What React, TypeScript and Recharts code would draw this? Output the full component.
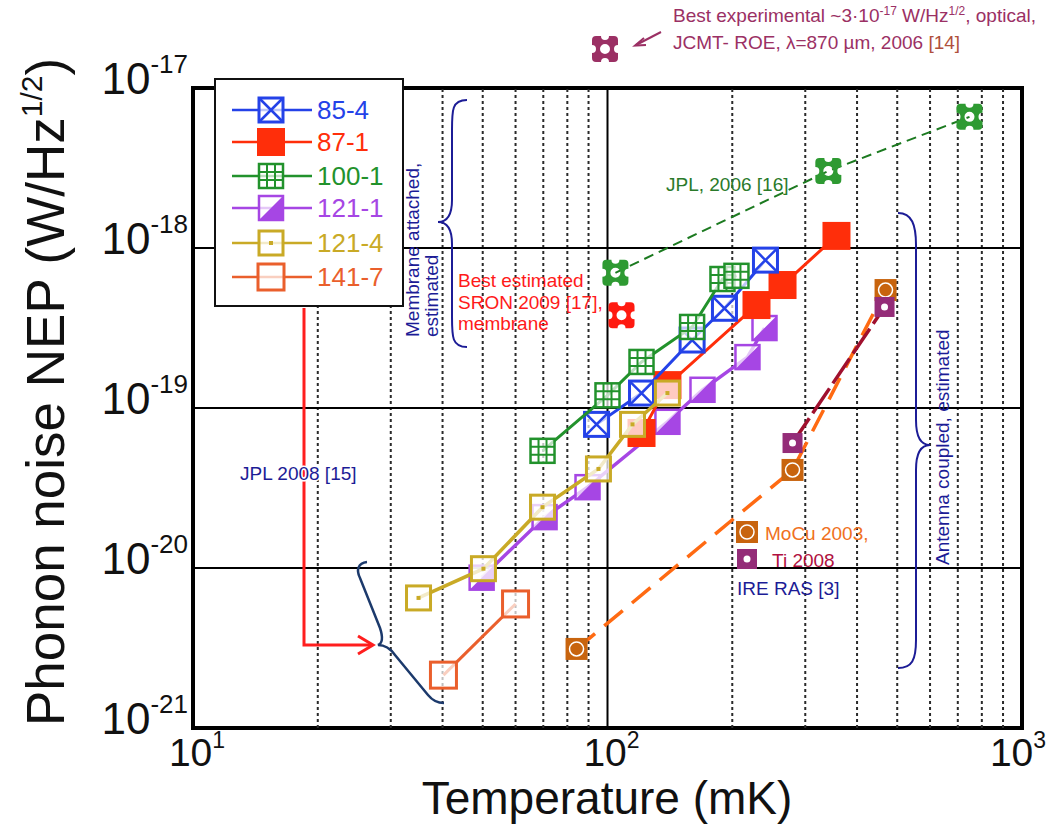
import React from 'react';
import { ScatterChart, Scatter, XAxis, YAxis, ReferenceLine, ReferenceArea } from 'recharts';

const FONT = '"Liberation Sans", Arial, Helvetica, sans-serif';

// temperature (mK) / phonon NEP (W/Hz^1/2)
const t854 = [94.1, 120.8, 160, 191.5, 240.5];
const nep854 = [7.9e-20, 1.24e-19, 2.66e-19, 4.2e-19, 8.4e-19];
const t871 = [120.8, 139.5, 228.8, 264.4, 356.8];
const nep871 = [6.98e-20, 1.39e-19, 4.4e-19, 5.87e-19, 1.19e-18];
const t1001 = [69.7, 100, 120.8, 160, 189.4, 204.7];
const nep1001 = [5.4e-20, 1.2e-19, 1.94e-19, 3.21e-19, 6.4e-19, 6.7e-19];
const t1211 = [49.7, 70.5, 89.5, 139.5, 169.5, 217.6, 239.2];
const nep1211 = [8.7e-21, 2.08e-20, 3.2e-20, 8.2e-20, 1.3e-19, 2.08e-19, 3.16e-19];
const t1214 = [35.0, 50.2, 69.7, 95.1, 114.9, 139.5];
const nep1214 = [6.5e-21, 9.9e-21, 2.4e-20, 4.16e-20, 7.9e-20, 1.24e-19];
const t1417 = [40.2, 60.0];
const nep1417 = [2.14e-21, 5.96e-21];

const tJpl06 = [104.5, 341, 747];
const nepJpl06 = [7.0e-19, 3.03e-18, 6.6e-18];
const tSron = [108.1];
const nepSron = [3.8e-19];
const tMoCu = [84.2, 279.5, 468.6];
const nepMoCu = [3.12e-21, 4.1e-20, 5.46e-19];
const tTi = [279.5, 466];
const nepTi = [6.04e-20, 4.28e-19];

const seriesNames = ['85-4', '87-1', '100-1', '121-1', '121-4', '141-7'];

const xTicks = [10, 100, 1000];
const yTicks = [1e-21, 1e-20, 1e-19, 1e-18, 1e-17];
const xMinor = [20, 30, 40, 50, 60, 70, 80, 90, 200, 300, 400, 500, 600, 700, 800, 900];
const xMajor = [100];
const yMajor = [1e-20, 1e-19, 1e-18];

const rows = (t: number[], v: number[]) => t.map((x, i) => ({ x, y: v[i] }));

const C = {
  blue: '#2442e8',
  red: '#ff2e0a',
  green: '#22922c',
  purple: '#a646e4',
  yellow: '#c9aa26',
  orange: '#ea5f2c',
  jpl: '#2e9a32',
  jplLine: '#1c7a20',
  mocu: '#c8640e',
  mocuLine: '#ff6a12',
  ti: '#942c78',
  tiLine: '#a0102e',
  navy: '#1c1c96',
  exp: '#9b3064',
};

const H = 12;
type Mk = (cx: number, cy: number) => React.ReactElement;

const boxCross = (c: string): Mk => (cx, cy) => (
  <g>
    <rect x={cx - H} y={cy - H} width={2 * H} height={2 * H} fill="#fff" fillOpacity={0.7} stroke={c} strokeWidth={3} />
    <path d={`M${cx - H},${cy - H}L${cx + H},${cy + H}M${cx + H},${cy - H}L${cx - H},${cy + H}`} stroke={c} strokeWidth={2.5} />
  </g>
);
const boxFilled = (c: string): Mk => (cx, cy) => (
  <rect x={cx - 14} y={cy - 14} width={28} height={28} fill={c} />
);
const boxGrid = (c: string): Mk => (cx, cy) => (
  <g>
    <rect x={cx - H} y={cy - H} width={2 * H} height={2 * H} fill="#fff" fillOpacity={0.7} stroke={c} strokeWidth={2.5} />
    <path d={`M${cx - 4},${cy - H}V${cy + H}M${cx + 4},${cy - H}V${cy + H}M${cx - H},${cy - 4}H${cx + H}M${cx - H},${cy + 4}H${cx + H}`} stroke={c} strokeWidth={2} />
  </g>
);
const boxHalf = (c: string): Mk => (cx, cy) => (
  <g>
    <rect x={cx - H} y={cy - H} width={2 * H} height={2 * H} fill="#fff" fillOpacity={0.7} stroke={c} strokeWidth={2.5} />
    <path d={`M${cx + H},${cy - H}L${cx + H},${cy + H}L${cx - H},${cy + H}Z`} fill={c} />
  </g>
);
const boxDot = (c: string): Mk => (cx, cy) => (
  <g>
    <rect x={cx - H} y={cy - H} width={2 * H} height={2 * H} fill="#fff" fillOpacity={0.75} stroke={c} strokeWidth={3} />
    <rect x={cx - 2} y={cy - 2} width={4} height={4} fill={c} />
  </g>
);
const boxOpen = (c: string): Mk => (cx, cy) => (
  <rect x={cx - 13} y={cy - 13} width={26} height={26} fill="#fff" fillOpacity={0.7} stroke={c} strokeWidth={3} />
);
// filled rounded square with a round hole and a notch in each side
const cog = (c: string): Mk => (cx, cy) => {
  const r = 13;
  const n = 4;
  const d =
    `M${cx - r + 4},${cy - r}` +
    `L${cx - n},${cy - r} A${n},${n} 0 0 0 ${cx + n},${cy - r}` +
    `L${cx + r - 4},${cy - r} Q${cx + r},${cy - r} ${cx + r},${cy - r + 4}` +
    `L${cx + r},${cy - n} A${n},${n} 0 0 0 ${cx + r},${cy + n}` +
    `L${cx + r},${cy + r - 4} Q${cx + r},${cy + r} ${cx + r - 4},${cy + r}` +
    `L${cx + n},${cy + r} A${n},${n} 0 0 0 ${cx - n},${cy + r}` +
    `L${cx - r + 4},${cy + r} Q${cx - r},${cy + r} ${cx - r},${cy + r - 4}` +
    `L${cx - r},${cy + n} A${n},${n} 0 0 0 ${cx - r},${cy - n}` +
    `L${cx - r},${cy - r + 4} Q${cx - r},${cy - r} ${cx - r + 4},${cy - r}Z` +
    `M${cx + 5},${cy} A5,5 0 1 0 ${cx - 5},${cy} A5,5 0 1 0 ${cx + 5},${cy}Z`;
  return <path d={d} fill={c} fillRule="evenodd" />;
};
const mocuMk: Mk = (cx, cy) => (
  <g>
    <rect x={cx - 11} y={cy - 11} width={22} height={22} fill={C.mocu} />
    <circle cx={cx} cy={cy} r={7} fill="none" stroke="#fff" strokeWidth={1.5} />
  </g>
);
const tiMk: Mk = (cx, cy) => (
  <g>
    <rect x={cx - 10} y={cy - 10} width={20} height={20} fill={C.ti} />
    <circle cx={cx} cy={cy} r={3.5} fill="#fff" />
  </g>
);

const legendMarkers = [boxCross(C.blue), boxFilled(C.red), boxGrid(C.green), boxHalf(C.purple), boxDot(C.yellow), boxOpen(C.orange)];
const legendColors = [C.blue, C.red, C.green, C.purple, C.yellow, C.orange];
const legendRows = [110, 142, 176, 208, 243, 277];

const XTick = (p: any) => {
  const e = Math.round(Math.log10(p.payload.value));
  return (
    <text x={Math.min(p.x + 4, 1018)} y={p.y + 30} textAnchor="middle" fontSize={39} fontFamily={FONT} fill="#111">
      10<tspan dy={-18} fontSize={23}>{e}</tspan>
    </text>
  );
};

const YTick = (p: any) => {
  const e = Math.round(Math.log10(p.payload.value));
  return (
    <text x={p.x + 3} y={p.y + 6} textAnchor="end" fontSize={44} fontFamily={FONT} fill="#111">
      10<tspan dy={-21} fontSize={26}>{e}</tspan>
    </text>
  );
};

const XTitle = () => (
  <text x={607} y={814} textAnchor="middle" fontSize={46} fontFamily={FONT} fill="#111">
    Temperature (mK)
  </text>
);

const YTitle = () => (
  <text transform="translate(64,392) rotate(-90)" x={0} y={0} textAnchor="middle" fontSize={53} fontFamily={FONT} fill="#111">
    Phonon noise NEP (W/Hz<tspan dy={-22} fontSize={30}>1/2</tspan>
    <tspan dy={22}>)</tspan>
  </text>
);

const shapeOf = (m: Mk) => (p: any) => m(p.cx, p.cy);

const Overlay = () => (
  <svg width={1051} height={832} style={{ position: 'absolute', left: 0, top: 0, pointerEvents: 'none' }} fontFamily={FONT}>
    {/* legend */}
    <rect x={215} y={79} width={188} height={227} fill="#fff" stroke="#111" strokeWidth={2} />
    {seriesNames.map((n, i) => (
      <g key={n}>
        <line x1={232} x2={312} y1={legendRows[i]} y2={legendRows[i]} stroke={legendColors[i]} strokeWidth={2.5} />
        {legendMarkers[i](271, legendRows[i])}
        <text x={317} y={legendRows[i] + 9} fontSize={26} fill={legendColors[i]}>{n}</text>
      </g>
    ))}

    {/* best experimental */}
    {cog(C.exp)(605, 49)}
    <path d="M661,32 L636,45" stroke={C.exp} strokeWidth={2} />
    <path d="M644,38 L635,45.5 L646,45" stroke={C.exp} strokeWidth={2} fill="none" />
    <text x={673} y={22} fontSize={19} fill={C.exp}>
      Best experimental ~3·10<tspan dy={-7} fontSize={12}>-17</tspan>
      <tspan dy={7}> W/Hz</tspan>
      <tspan dy={-7} fontSize={12}>1/2</tspan>
      <tspan dy={7}>, optical,</tspan>
    </text>
    <text x={673} y={49} fontSize={19} fill={C.exp}>
      JCMT- ROE, λ=870 µm, 2006 <tspan fill="#b0503c">[14]</tspan>
    </text>

    <text x={666} y={191} fontSize={19} fill="#2a7a2a">JPL, 2006 [16]</text>

    <g fontSize={19} fill="#ff1a1a">
      <text x={458} y={287}>Best estimated</text>
      <text x={458} y={309}>SRON 2009 [17],</text>
      <text x={458} y={330}>membrane</text>
    </g>

    <g fontSize={19} fill={C.navy}>
      <text transform="translate(419,337) rotate(-90)">Membrane attached,</text>
      <text transform="translate(438,337) rotate(-90)">estimated</text>
      <text transform="translate(949,565) rotate(-90)">Antenna coupled, estimated</text>
    </g>
    <path d="M467,100 C452,100 452,110 452,130 L452,200 C452,215 447,222 438,222 C447,222 452,229 452,244 L452,317 C452,337 452,347 467,347" stroke={C.navy} strokeWidth={2} fill="none" />
    <path d="M898,213 C912,213 916,225 916,245 L916,420 C916,437 921,445 930,445 C921,445 916,453 916,470 L916,640 C916,660 912,668 898,668" stroke={C.navy} strokeWidth={2} fill="none" />

    {/* JPL 2008 */}
    <path d="M304,308 L304,645 L372,645" stroke="#ff1e1e" strokeWidth={3} fill="none" />
    <path d="M358,636 L373,645 L358,654" stroke="#ff1e1e" strokeWidth={3} fill="none" />
    <text x={240} y={480} fontSize={19} fill={C.navy} stroke="#fff" strokeWidth={3} paintOrder="stroke">JPL 2008 [15]</text>
    <path d="M367,562 C358,563 356,570 360,578 L380,628 C383,637 383,643 378,645 C385,645 390,648 395,655 L428,695 C432,700 437,703 444,703" stroke="#1c3a6c" strokeWidth={2.5} fill="none" />

    {/* IRE RAS */}
    {mocuMk(747, 532)}
    <text x={765} y={540} fontSize={19} fill="#f07020">MoCu 2003,</text>
    {tiMk(747, 559)}
    <text x={772} y={567} fontSize={19} fill="#b01040">Ti 2008</text>
    <text x={737} y={595} fontSize={19} fill={C.navy}>IRE RAS [3]</text>
  </svg>
);

export default function App() {
  return (
    <div style={{ position: 'absolute', left: 0, top: 0, width: 1051, height: 832, background: '#fff' }}>
      <ScatterChart width={1051} height={832} margin={{ top: 88, right: 29, bottom: 0, left: 0 }}>
        <XAxis
          type="number"
          dataKey="x"
          scale="log"
          domain={[10, 1000]}
          ticks={xTicks}
          tick={XTick}
          axisLine={false}
          tickLine={false}
          height={104}
          allowDataOverflow
          label={<XTitle />}
        />
        <YAxis
          type="number"
          dataKey="y"
          scale="log"
          domain={[1e-21, 1e-17]}
          ticks={yTicks}
          tick={YTick}
          axisLine={false}
          tickLine={false}
          width={193}
          allowDataOverflow
          label={<YTitle />}
        />
        {xMinor.map((v) => (
          <ReferenceLine key={'m' + v} x={v} stroke="#2a2a2a" strokeWidth={2} strokeDasharray="3 3" />
        ))}
        {xMajor.map((v) => (
          <ReferenceLine key={'M' + v} x={v} stroke="#000" strokeWidth={2} />
        ))}
        {yMajor.map((v) => (
          <ReferenceLine key={'y' + v} y={v} stroke="#000" strokeWidth={2} />
        ))}
        <ReferenceArea x1={10} x2={1000} y1={1e-21} y2={1e-17} fill="none" fillOpacity={0} stroke="#000" strokeWidth={4} />

        <Scatter data={rows(tJpl06, nepJpl06)} fill={C.jpl} line={{ stroke: C.jplLine, strokeWidth: 2, strokeDasharray: '10 6' }} lineType="joint" shape={shapeOf(cog(C.jpl))} isAnimationActive={false} />
        <Scatter data={rows(tSron, nepSron)} fill={C.red} shape={shapeOf(cog('#ff1a10'))} isAnimationActive={false} />
        <Scatter data={rows(tMoCu, nepMoCu)} fill={C.mocu} line={{ stroke: C.mocuLine, strokeWidth: 3.5, strokeDasharray: '24 12' }} lineType="joint" shape={shapeOf(mocuMk)} isAnimationActive={false} />
        <Scatter data={rows(tTi, nepTi)} fill={C.ti} line={{ stroke: C.tiLine, strokeWidth: 3.5, strokeDasharray: '30 6' }} lineType="joint" shape={shapeOf(tiMk)} isAnimationActive={false} />
        <Scatter data={rows(t1417, nep1417)} fill={C.orange} line={{ stroke: C.orange, strokeWidth: 3 }} lineType="joint" shape={shapeOf(boxOpen(C.orange))} isAnimationActive={false} />
        <Scatter data={rows(t1211, nep1211)} fill={C.purple} line={{ stroke: C.purple, strokeWidth: 3.5 }} lineType="joint" shape={shapeOf(boxHalf(C.purple))} isAnimationActive={false} />
        <Scatter data={rows(t871, nep871)} fill={C.red} line={{ stroke: C.red, strokeWidth: 3 }} lineType="joint" shape={shapeOf(boxFilled(C.red))} isAnimationActive={false} />
        <Scatter data={rows(t854, nep854)} fill={C.blue} line={{ stroke: C.blue, strokeWidth: 3 }} lineType="joint" shape={shapeOf(boxCross(C.blue))} isAnimationActive={false} />
        <Scatter data={rows(t1001, nep1001)} fill={C.green} line={{ stroke: C.green, strokeWidth: 3 }} lineType="joint" shape={shapeOf(boxGrid(C.green))} isAnimationActive={false} />
        <Scatter data={rows(t1214, nep1214)} fill={C.yellow} line={{ stroke: C.yellow, strokeWidth: 3.5 }} lineType="joint" shape={shapeOf(boxDot(C.yellow))} isAnimationActive={false} />
      </ScatterChart>
      <Overlay />
    </div>
  );
}
